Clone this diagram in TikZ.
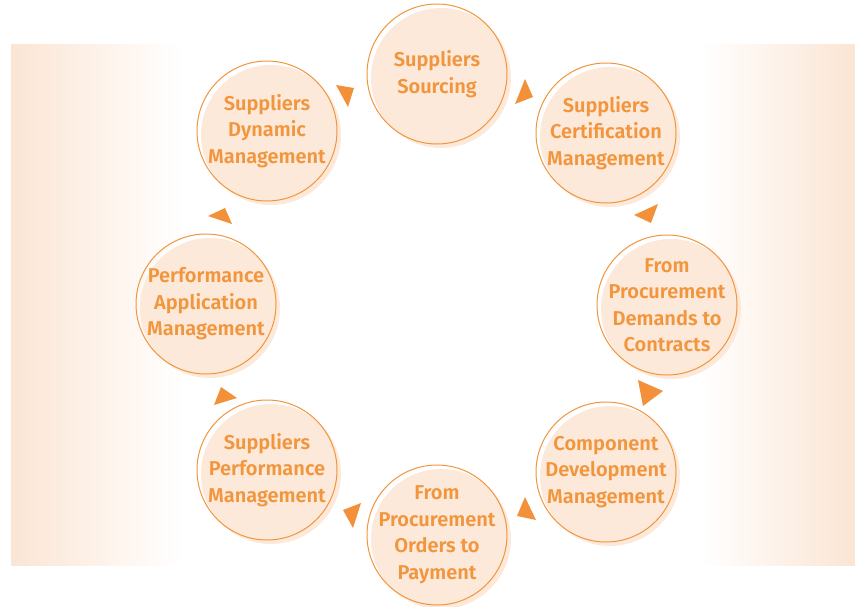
\documentclass[tikz,border=0pt]{standalone}
\usepackage{fontspec}
\setsansfont{Fira Sans}[BoldFont={Fira Sans SemiBold}]
\usetikzlibrary{shadows}
\definecolor{ring}{HTML}{F0953C}
\definecolor{label}{HTML}{F2963E}
\definecolor{peach}{HTML}{FCE9DA}
\definecolor{band}{HTML}{FBE5D4}
\definecolor{tip}{HTML}{F3913A}

\begin{document}
\begin{tikzpicture}[x=1pt,y=-1pt,font=\sffamily\bfseries,
  stage/.style={circle,draw=ring,line width=1pt,minimum size=140pt,
    inner sep=-20pt,align=center,text=label,
    font=\sffamily\bfseries\fontsize{20}{26.5}\selectfont,
    general shadow={fill=peach,shadow xshift=4pt,shadow yshift=-4pt}},
  tip/.style={fill=tip}]
  \useasboundingbox (0,0) rectangle (855,606);
  % side bands
  \shade[left color=band,right color=white] (11,44) rectangle (184,565);
  \shade[left color=white,right color=band] (700,44) rectangle (855,565);
  % the eight stages
  \node[stage] (sourcing)  at (437,74)  {Suppliers\\Sourcing};
  \node[stage] (certif)    at (606,133) {Suppliers\\Certification\\Management};
  \node[stage] (demands)   at (667,305) {From\\Procurement\\Demands to\\Contracts};
  \node[stage] (component) at (606,472) {Component\\Development\\Management};
  \node[stage] (orders)    at (437,535) {From\\Procurement\\Orders to\\Payment};
  \node[stage] (perfmgmt)  at (267,470) {Suppliers\\Performance\\Management};
  \node[stage] (perfapp)   at (206,304) {Performance\\Application\\Management};
  \node[stage] (dynamic)   at (267,131) {Suppliers\\Dynamic\\Management};
  % little arrow heads between the stages
  \fill[tip] (336,85) -- (354,88) -- (348,107) -- cycle;
  \fill[tip] (525,79) -- (515,104) -- (533,97) -- cycle;
  \fill[tip] (658,204) -- (634,215) -- (651,223) -- cycle;
  \fill[tip] (638,380) -- (663,391) -- (643,406) -- cycle;
  \fill[tip] (525,497) -- (517,516) -- (536,520) -- cycle;
  \fill[tip] (343,510) -- (361,503) -- (353,528) -- cycle;
  \fill[tip] (221,387) -- (237,398) -- (214,405) -- cycle;
  \fill[tip] (208,216) -- (225,208) -- (232,224) -- cycle;
\end{tikzpicture}
\end{document}
